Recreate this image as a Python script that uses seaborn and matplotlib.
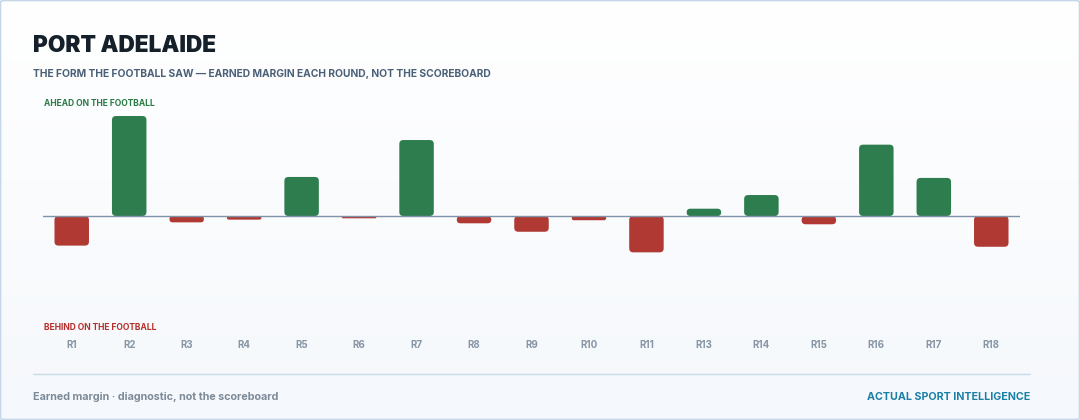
import numpy as np
import pandas as pd
import matplotlib
matplotlib.use("Agg")
import matplotlib.pyplot as plt
from matplotlib.patches import FancyBboxPatch
from matplotlib.lines import Line2D
import seaborn as sns

# Earned margin per round (points)
rounds = ['R1', 'R2', 'R3', 'R4', 'R5', 'R6', 'R7', 'R8', 'R9', 'R10',
          'R11', 'R13', 'R14', 'R15', 'R16', 'R17', 'R18']
margins = [-15.4, 52.0, -3.3, -1.9, 20.3, -1.2, 39.5, -3.8, -8.2, -2.2,
           -18.9, 3.8, 10.9, -4.3, 37.1, 19.8, -16.0]

GREEN = '#2e7d4f'
RED = '#b03a33'

df = pd.DataFrame({'round': rounds, 'margin': margins})
df['side'] = np.where(df['margin'] >= 0, 'ahead', 'behind')

sns.set_theme(style="white")
plt.rcParams['font.family'] = ['Inter', 'DejaVu Sans']

W, H = 1080, 420
fig = plt.figure(figsize=(W / 100, H / 100), dpi=100)

# Soft vertical gradient background
bg = fig.add_axes([0, 0, 1, 1], zorder=-10)
grad = np.linspace(0, 1, 256).reshape(-1, 1)
cmap = matplotlib.colors.LinearSegmentedColormap.from_list('bg', ['#ffffff', '#f5f8fc'])
bg.imshow(grad, aspect='auto', cmap=cmap, extent=[0, 1, 0, 1], origin='upper')
bg.set_axis_off()

# Card border
fig.add_artist(FancyBboxPatch((0.5 / W, 0.5 / H), 1 - 1 / W, 1 - 1 / H,
                              boxstyle="round,pad=0,rounding_size=0.004",
                              transform=fig.transFigure, fill=False,
                              edgecolor='#c5d6e8', lw=1.2))

# Chart area
ax = fig.add_axes([43 / W, 104 / H, 977 / W, 200 / H])
ax.set_facecolor('none')
sns.barplot(data=df, x='round', y='margin', hue='side',
            palette={'ahead': GREEN, 'behind': RED}, width=0.6,
            dodge=False, legend=False, ax=ax, saturation=1)
lim = max(abs(v) for v in margins)
ax.set_ylim(-lim, lim)
ax.set_xlim(-0.5, len(rounds) - 0.5)

# Swap the square bars for rounded ones
xu = (len(rounds)) / 977.0          # x data units per pixel
yu = (2 * lim) / 200.0              # y data units per pixel
for p in list(ax.patches):
    x, y, w, h = p.get_x(), p.get_y(), p.get_width(), p.get_height()
    if h < 0:
        y, h = y + h, -h
    if h == 0:
        continue
    r_px = min(4.0, h / yu / 2)
    rounded = FancyBboxPatch((x, y), w, h,
                             boxstyle=f"round,pad=0,rounding_size={r_px * xu}",
                             mutation_aspect=yu / xu,
                             facecolor=p.get_facecolor(), edgecolor='none', zorder=2)
    ax.add_patch(rounded)
    p.remove()

ax.axhline(0, color='#7f93a8', lw=1, zorder=3)

for s in ax.spines.values():
    s.set_visible(False)
ax.set_yticks([])
ax.set_xlabel('')
ax.set_ylabel('')
ax.tick_params(axis='x', length=0, pad=17, labelsize=7, labelcolor='#8795a4')
for t in ax.get_xticklabels():
    t.set_fontweight('bold')

# Titles
fig.text(33 / W, 1 - 46 / H, 'PORT ADELAIDE', fontsize=16.3, fontweight='black',
         color='#15202b', va='center', ha='left')
fig.text(33 / W, 1 - 74 / H,
         'THE FORM THE FOOTBALL SAW \u2014 EARNED MARGIN EACH ROUND, NOT THE SCOREBOARD',
         fontsize=7.4, fontweight='bold', color='#4a6078', va='center', ha='left')

# Side labels
fig.text(44 / W, 1 - 104 / H, 'AHEAD ON THE FOOTBALL', fontsize=6.1, fontweight='bold',
         color='#2b7a45', va='center', ha='left')
fig.text(44 / W, 1 - 328 / H, 'BEHIND ON THE FOOTBALL', fontsize=6.1, fontweight='bold',
         color='#b5302a', va='center', ha='left')

# Footer
fig.add_artist(Line2D([33 / W, 1030 / W], [1 - 374 / H, 1 - 374 / H],
                      transform=fig.transFigure, color='#cadbe8', lw=1))
fig.text(33 / W, 1 - 397 / H, 'Earned margin \u00b7 diagnostic, not the scoreboard',
         fontsize=7.75, fontweight='bold', color='#7d8a98', va='center', ha='left')
fig.text(1030 / W, 1 - 397 / H, 'ACTUAL SPORT INTELLIGENCE',
         fontsize=7.7, fontweight='bold', color='#1a7fa6', va='center', ha='right')

fig.savefig('out.png', dpi=100)
